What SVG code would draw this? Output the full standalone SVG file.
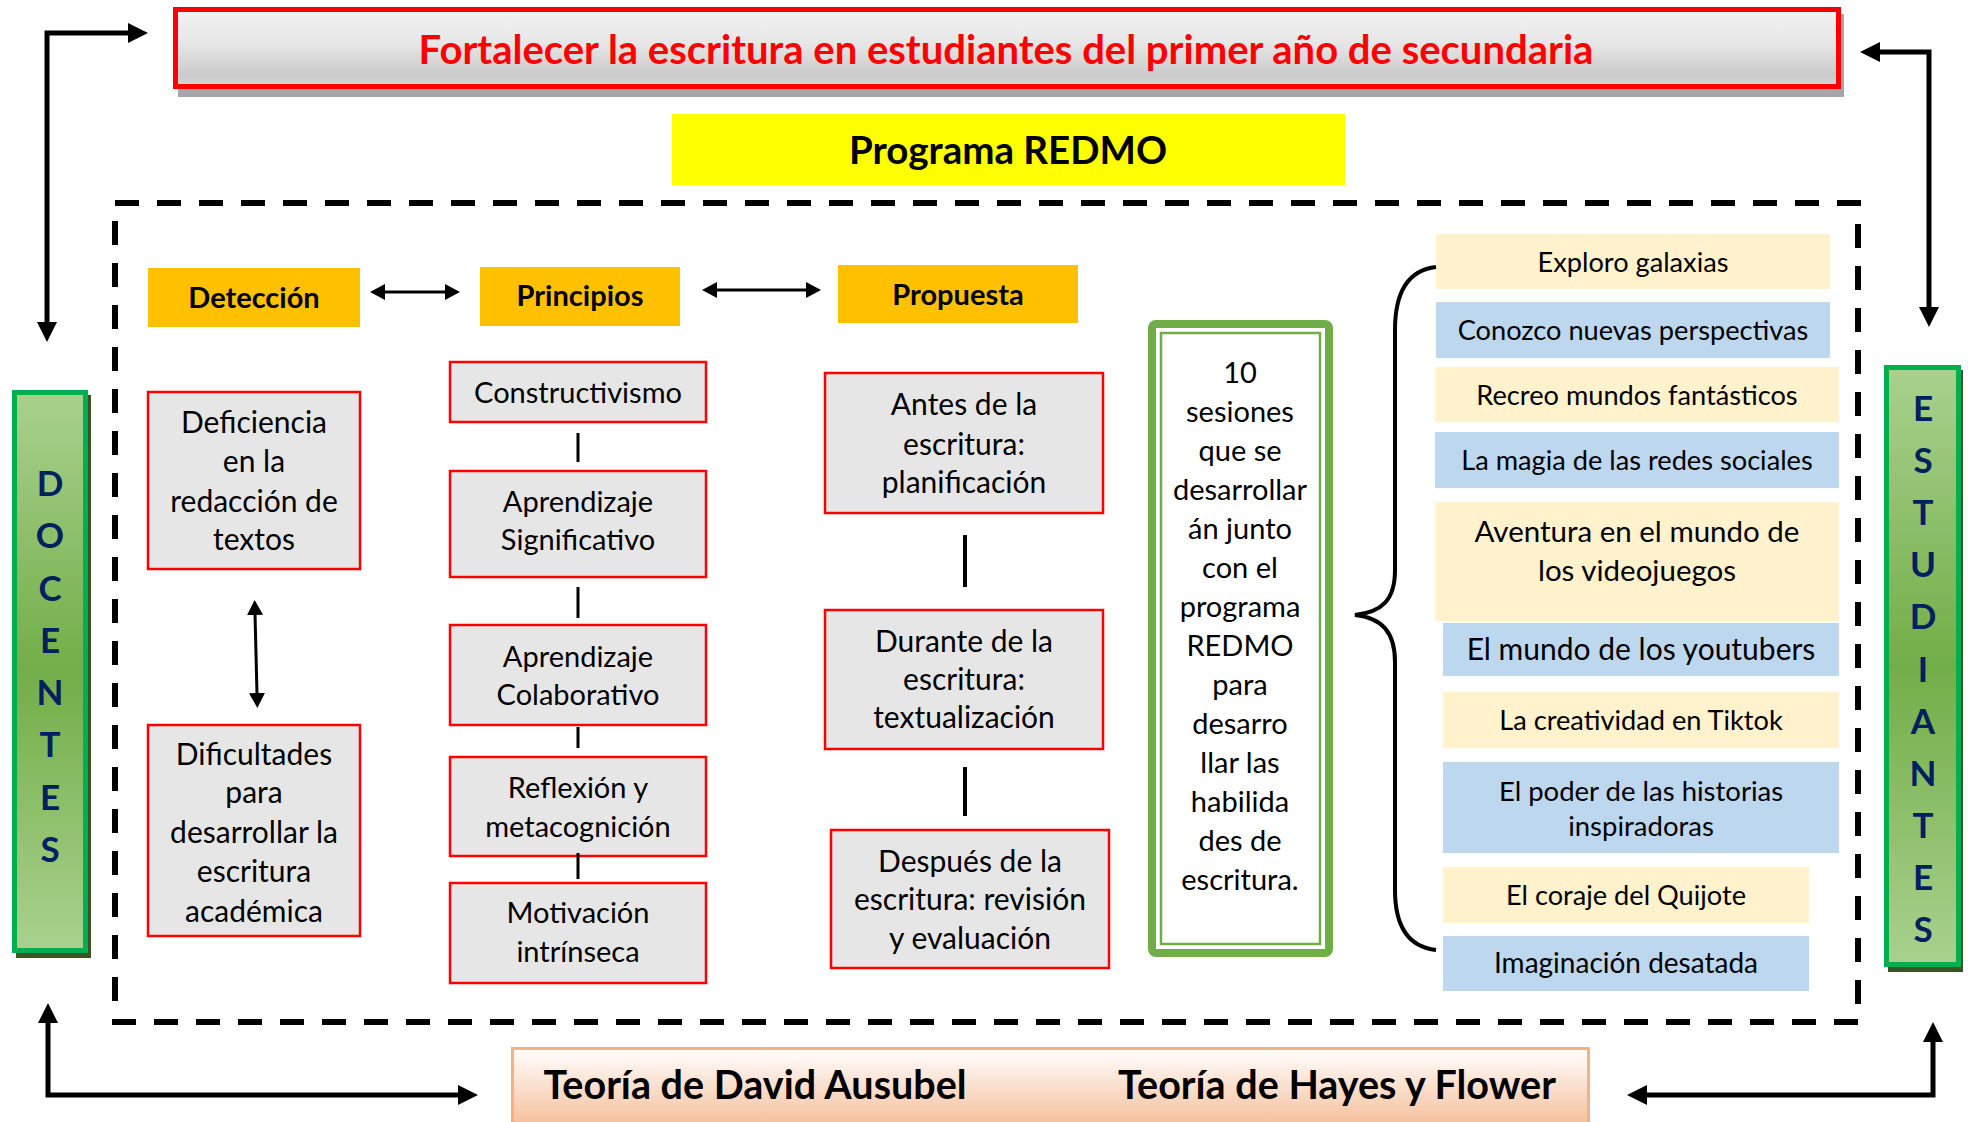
<svg xmlns="http://www.w3.org/2000/svg" width="1968" height="1122" viewBox="0 0 1968 1122">
<defs>
<style>
text{font-family:Lato,"Liberation Sans",sans-serif;text-anchor:middle;fill:#000}
.b{font-weight:bold}
.gray{fill:#E7E6E6;stroke:#FF0000;stroke-width:2.5}
.hdr{fill:#FFC000}
.cream{fill:#FFF2CC}
.blue{fill:#BDD7EE}
.t30{font-size:30px}
.t29{font-size:29px}
.t27{font-size:27.2px}
.hd{font-size:29px;font-weight:bold}
.letter{font-size:35px;font-weight:bold;fill:#002060}
.big{fill:none;stroke:#000;stroke-width:5;marker-start:url(#ah);marker-end:url(#ah)}
.sm{fill:none;stroke:#000;stroke-width:3;marker-start:url(#as);marker-end:url(#as)}
.ln{stroke:#000;stroke-width:3}
.ln4{stroke:#000;stroke-width:4}
</style>
<marker id="ah" markerUnits="userSpaceOnUse" markerWidth="20" markerHeight="20" viewBox="0 0 20 20" refX="1" refY="10" orient="auto-start-reverse"><path d="M0,0 L20,10 L0,20 z" fill="#000"/></marker>
<marker id="as" markerUnits="userSpaceOnUse" markerWidth="15" markerHeight="16" viewBox="0 0 15 16" refX="1" refY="8" orient="auto-start-reverse"><path d="M0,0 L15,8 L0,16 z" fill="#000"/></marker>
<linearGradient id="gTop" x1="0" y1="0" x2="0" y2="1">
<stop offset="0" stop-color="#F2F2F2"/><stop offset="0.45" stop-color="#E6E6E6"/><stop offset="0.85" stop-color="#CACACA"/><stop offset="1" stop-color="#D6D6D6"/>
</linearGradient>
<linearGradient id="gGreen" x1="0" y1="0" x2="0" y2="1">
<stop offset="0" stop-color="#A9D18E"/><stop offset="0.5" stop-color="#72AE48"/><stop offset="1" stop-color="#A9D18E"/>
</linearGradient>
<linearGradient id="gPeach" x1="0" y1="0" x2="0" y2="1">
<stop offset="0" stop-color="#FFFFFF"/><stop offset="1" stop-color="#F5BC97"/>
</linearGradient>
</defs>

<rect x="115" y="203" width="1743" height="819" fill="none" stroke="#000" stroke-width="6" stroke-dasharray="24 18"/>

<g id="objetivo">
<rect x="178" y="14" width="1666" height="83" fill="#A6A6A6"/>
<rect x="175.5" y="9.5" width="1663" height="77" fill="url(#gTop)" stroke="#FF0000" stroke-width="5"/>
<text x="1006" y="64" class="b" style="font-size:40px;fill:#FF0000">Fortalecer la escritura en estudiantes del primer año de secundaria</text>
</g>

<g id="programa">
<rect x="672" y="114" width="673" height="71" fill="#FFFF00"/>
<text x="1008" y="164" class="b" style="font-size:38.5px">Programa REDMO</text>
</g>

<g id="docentes">
<rect x="16" y="395" width="75" height="563" fill="#375623"/>
<rect x="14.5" y="392.5" width="71" height="558" fill="url(#gGreen)" stroke="#00B050" stroke-width="5"/>
<text x="50" class="letter"><tspan x="50" y="496">D</tspan><tspan x="50" y="548">O</tspan><tspan x="50" y="601">C</tspan><tspan x="50" y="653">E</tspan><tspan x="50" y="705">N</tspan><tspan x="50" y="757">T</tspan><tspan x="50" y="810">E</tspan><tspan x="50" y="862">S</tspan></text>
</g>

<g id="estudiantes">
<rect x="1888" y="370" width="75" height="602" fill="#375623"/>
<rect x="1886.5" y="367.5" width="72" height="597" fill="url(#gGreen)" stroke="#00B050" stroke-width="5"/>
<text x="1923" class="letter"><tspan x="1923" y="421">E</tspan><tspan x="1923" y="473">S</tspan><tspan x="1923" y="525">T</tspan><tspan x="1923" y="577">U</tspan><tspan x="1923" y="629">D</tspan><tspan x="1923" y="682">I</tspan><tspan x="1923" y="734">A</tspan><tspan x="1923" y="786">N</tspan><tspan x="1923" y="838">T</tspan><tspan x="1923" y="890">E</tspan><tspan x="1923" y="942">S</tspan></text>
</g>

<g id="teorias">
<rect x="512.5" y="1048.5" width="1076" height="80" fill="url(#gPeach)" stroke="#F4B183" stroke-width="3"/>
<text x="755" y="1099" class="b" style="font-size:39.5px">Teoría de David Ausubel</text>
<text x="1337" y="1099" class="b" style="font-size:39.5px">Teoría de Hayes y Flower</text>
</g>

<g id="deteccion">
<rect x="148" y="268" width="212" height="59" class="hdr"/>
<text x="254" y="308" class="hd">Detección</text>
</g>
<g id="principios">
<rect x="480" y="267" width="200" height="59" class="hdr"/>
<text x="580" y="306" class="hd">Principios</text>
</g>
<g id="propuesta">
<rect x="838" y="265" width="240" height="58" class="hdr"/>
<text x="958" y="305" class="hd">Propuesta</text>
</g>

<g id="deficiencia">
<rect x="148" y="392" width="212" height="177" class="gray"/>
<text class="t30"><tspan x="254" y="433">Deficiencia</tspan><tspan x="254" y="472">en la</tspan><tspan x="254" y="512">redacción de</tspan><tspan x="254" y="550">textos</tspan></text>
</g>
<g id="dificultades">
<rect x="148" y="725" width="212" height="211" class="gray"/>
<text class="t30"><tspan x="254" y="765">Dificultades</tspan><tspan x="254" y="803">para</tspan><tspan x="254" y="843">desarrollar la</tspan><tspan x="254" y="882">escritura</tspan><tspan x="254" y="922">académica</tspan></text>
</g>

<g id="constructivismo">
<rect x="450" y="362" width="256" height="60" class="gray"/>
<text x="578" y="403" class="t29">Constructivismo</text>
</g>
<g id="significativo">
<rect x="450" y="471" width="256" height="106" class="gray"/>
<text class="t29"><tspan x="578" y="512">Aprendizaje</tspan><tspan x="578" y="550">Significativo</tspan></text>
</g>
<g id="colaborativo">
<rect x="450" y="625" width="256" height="100" class="gray"/>
<text class="t29"><tspan x="578" y="667">Aprendizaje</tspan><tspan x="578" y="705">Colaborativo</tspan></text>
</g>
<g id="reflexion">
<rect x="450" y="757" width="256" height="99" class="gray"/>
<text class="t29"><tspan x="578" y="798">Reflexión y</tspan><tspan x="578" y="837">metacognición</tspan></text>
</g>
<g id="motivacion">
<rect x="450" y="883" width="256" height="100" class="gray"/>
<text class="t29"><tspan x="578" y="923">Motivación</tspan><tspan x="578" y="962">intrínseca</tspan></text>
</g>

<g id="antes">
<rect x="825" y="373" width="278" height="140" class="gray"/>
<text class="t30"><tspan x="964" y="415">Antes de la</tspan><tspan x="964" y="455">escritura:</tspan><tspan x="964" y="493">planificación</tspan></text>
</g>
<g id="durante">
<rect x="825" y="610" width="278" height="139" class="gray"/>
<text class="t30"><tspan x="964" y="652">Durante de la</tspan><tspan x="964" y="690">escritura:</tspan><tspan x="964" y="728">textualización</tspan></text>
</g>
<g id="despues">
<rect x="831" y="830" width="278" height="138" class="gray"/>
<text class="t30"><tspan x="970" y="872">Después de la</tspan><tspan x="970" y="910">escritura: revisión</tspan><tspan x="970" y="949">y evaluación</tspan></text>
</g>

<g id="sesiones">
<rect x="1152" y="324" width="177" height="629" rx="4" fill="#FFFFFF" stroke="#70AD47" stroke-width="8"/>
<rect x="1161" y="333" width="159" height="611" fill="none" stroke="#70AD47" stroke-width="2.5"/>
<text class="t29"><tspan x="1240" y="383">10</tspan><tspan x="1240" y="422">sesiones</tspan><tspan x="1240" y="461">que se</tspan><tspan x="1240" y="500">desarrollar</tspan><tspan x="1240" y="539">án junto</tspan><tspan x="1240" y="578">con el</tspan><tspan x="1240" y="617">programa</tspan><tspan x="1240" y="656">REDMO</tspan><tspan x="1240" y="695">para</tspan><tspan x="1240" y="734">desarro</tspan><tspan x="1240" y="773">llar las</tspan><tspan x="1240" y="812">habilida</tspan><tspan x="1240" y="851">des de</tspan><tspan x="1240" y="890">escritura.</tspan></text>
</g>

<g id="s1"><rect x="1436" y="234" width="394" height="55" class="cream"/><text x="1633" y="272" class="t27">Exploro galaxias</text></g>
<g id="s2"><rect x="1436" y="302" width="394" height="56" class="blue"/><text x="1633" y="340" class="t27">Conozco nuevas perspectivas</text></g>
<g id="s3"><rect x="1435" y="367" width="404" height="55" class="cream"/><text x="1637" y="405" class="t27">Recreo mundos fantásticos</text></g>
<g id="s4"><rect x="1435" y="432" width="404" height="56" class="blue"/><text x="1637" y="470" class="t27">La magia de las redes sociales</text></g>
<g id="s5"><rect x="1435" y="502" width="404" height="119" class="cream"/><text style="font-size:29.5px"><tspan x="1637" y="542">Aventura en el mundo de</tspan><tspan x="1637" y="581">los videojuegos</tspan></text></g>
<g id="s6"><rect x="1443" y="623" width="396" height="53" class="blue"/><text x="1641" y="660" style="font-size:30px">El mundo de los youtubers</text></g>
<g id="s7"><rect x="1443" y="692" width="396" height="56" class="cream"/><text x="1641" y="730" class="t27">La creatividad en Tiktok</text></g>
<g id="s8"><rect x="1443" y="762" width="396" height="91" class="blue"/><text style="font-size:27.5px"><tspan x="1641" y="801">El poder de las historias</tspan><tspan x="1641" y="836">inspiradoras</tspan></text></g>
<g id="s9"><rect x="1443" y="867" width="366" height="56" class="cream"/><text x="1626" y="905" class="t27">El coraje del Quijote</text></g>
<g id="s10"><rect x="1443" y="936" width="366" height="55" class="blue"/><text x="1626" y="973" style="font-size:28px">Imaginación desatada</text></g>

<g id="connectors">
<path class="big" d="M47,323 L47,33 L129,33"/>
<path class="big" d="M1879,52 L1929,52 L1929,308"/>
<path class="big" d="M48,1022 L48,1095 L459,1095"/>
<path class="big" d="M1646,1095 L1933,1095 L1933,1041"/>
<path class="sm" d="M384,292 L446,292"/>
<path class="sm" d="M716,290 L807,290"/>
<path class="sm" d="M255,614 L257,694"/>
<line class="ln" x1="578" y1="433" x2="578" y2="462"/>
<line class="ln" x1="578" y1="587" x2="578" y2="618"/>
<line class="ln" x1="578" y1="727" x2="578" y2="748"/>
<line class="ln" x1="578" y1="853" x2="578" y2="879"/>
<line class="ln4" x1="965" y1="535" x2="965" y2="587"/>
<line class="ln4" x1="965" y1="767" x2="965" y2="816"/>
<path d="M1436,267 C1410,270 1395,290 1395,330 L1395,570 C1395,600 1382,612 1355,615 C1382,618 1395,632 1395,662 L1395,890 C1395,928 1410,947 1436,950" fill="none" stroke="#000" stroke-width="4"/>
</g>
</svg>
